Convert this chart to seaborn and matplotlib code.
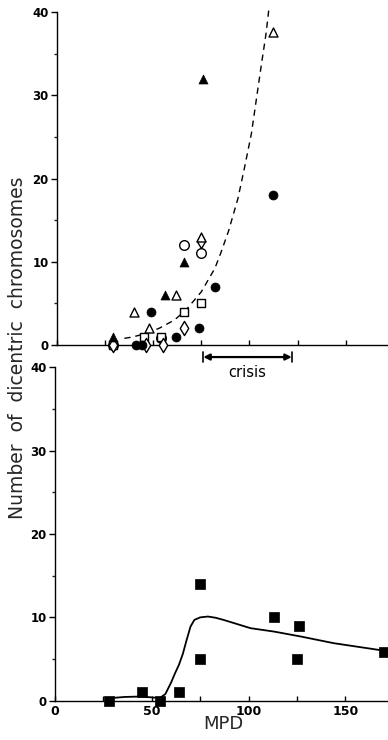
import numpy as np
import pandas as pd
import seaborn as sns
import matplotlib.pyplot as plt

# Top panel: dicentrics vs MPD, one list pair per symbol
filled_circle_x = [41, 44, 49, 62, 74, 82, 112]
filled_circle_y = [0, 0, 4, 1, 2, 7, 18]
open_circle_x = [29, 54, 66, 75]
open_circle_y = [0, 0.8, 12, 11]
filled_tri_x = [29, 56, 66, 76]
filled_tri_y = [1, 6, 10, 32]
open_tri_x = [40, 48, 62, 75, 112]
open_tri_y = [4, 2, 6, 13, 37.6]
open_square_x = [29, 45, 54, 66, 75]
open_square_y = [0, 1, 1, 4, 5]
open_diamond_x = [29, 46, 55, 66, 75]
open_diamond_y = [0, 0, 0, 2, 12.5]

# dashed fit
fit_x = [35, 39, 45, 53, 61, 67, 75, 78, 82, 85, 89, 94, 97.5, 101, 103.5, 106, 108.6, 110]
fit_y = [0.8, 0.95, 1.3, 2.0, 3.0, 4.2, 6.4, 7.6, 9.2, 11.0, 13.6, 17.6, 21.4, 25.4, 29.4, 33.4, 37.4, 40.2]

crisis_range = [76, 122]

# Bottom panel
square_x = [28, 45, 54, 64, 75, 75, 113, 126, 125, 170]
square_y = [0, 1, 0, 1, 14, 5, 10, 9, 5, 5.8]

smooth_x = [28, 36, 44, 50, 54, 57, 60, 62, 64, 66, 68, 70, 72, 75, 79, 83, 87, 94, 101, 113, 127, 144, 170]
smooth_y = [0.3, 0.45, 0.5, 0.4, 0.3, 0.8, 2.2, 3.3, 4.3, 5.6, 7.3, 8.9, 9.7, 10.0, 10.1, 9.95, 9.7, 9.2, 8.7, 8.3, 7.7, 6.9, 6.0]

sns.set_style("ticks")
plt.rcParams['font.family'] = ['DejaVu Sans']

fig = plt.figure(figsize=(3.88, 7.40), dpi=100)
ax_top = fig.add_axes([0.147, 0.5338, 0.853, 0.4496])
ax_bot = fig.add_axes([0.1418, 0.0531, 0.8582, 0.4505])
# let the crisis label below the top panel show over the lower panel
ax_top.set_zorder(2)
ax_top.patch.set_visible(False)
ax_bot.patch.set_visible(False)


def style_axis(ax, show_xlabels):
    ax.set_xlim(0, 172)
    ax.set_ylim(0, 40)
    sns.despine(ax=ax)
    for side in ['left', 'bottom']:
        ax.spines[side].set_linewidth(1.0)
        ax.spines[side].set_color('black')
    ax.set_yticks([0, 10, 20, 30, 40])
    ax.set_yticks([5, 15, 25, 35], minor=True)
    ax.set_xticks([0, 50, 100, 150])
    ax.set_xticks([25, 75, 125], minor=True)
    ax.tick_params(axis='y', which='major', direction='out', length=4, width=1, pad=2,
                   labelsize=8.5, colors='black')
    ax.tick_params(axis='y', which='minor', direction='out', length=2.5, width=1)
    ax.tick_params(axis='x', which='both', direction='in', length=3.5, width=1, pad=3,
                   labelsize=9, colors='black')
    for lab in ax.get_yticklabels() + ax.get_xticklabels():
        lab.set_fontweight('bold')
    if not show_xlabels:
        ax.set_xticklabels([])
    ax.set_xlabel('')
    ax.set_ylabel('')


# top panel
sns.lineplot(x=fit_x, y=fit_y, ax=ax_top, color='black', lw=1.0, sort=False,
             estimator=None, linestyle=(0, (4.5, 3.5)), clip_on=False)
open_kw = dict(color='white', edgecolor='black', linewidth=1.0, ax=ax_top, zorder=3, clip_on=False)
filled_kw = dict(color='black', edgecolor='black', linewidth=0.5, ax=ax_top, zorder=3, clip_on=False)
sns.scatterplot(x=open_circle_x, y=open_circle_y, marker='o', s=48, **open_kw)
sns.scatterplot(x=open_square_x, y=open_square_y, marker='s', s=40, **open_kw)
sns.scatterplot(x=open_diamond_x, y=open_diamond_y, marker='d', s=52, **open_kw)
sns.scatterplot(x=open_tri_x, y=open_tri_y, marker='^', s=42, **open_kw)
sns.scatterplot(x=filled_circle_x, y=filled_circle_y, marker='o', s=42, **filled_kw)
sns.scatterplot(x=filled_tri_x, y=filled_tri_y, marker='^', s=42, **filled_kw)
style_axis(ax_top, show_xlabels=False)

# crisis bracket below the top axis
bar_y = -1.45
ax_top.annotate('', xy=(crisis_range[0], bar_y), xytext=(crisis_range[1], bar_y),
                xycoords='data', annotation_clip=False,
                arrowprops=dict(arrowstyle='<|-|>', color='black', lw=1.6,
                                mutation_scale=9, shrinkA=0, shrinkB=0))
for cx in crisis_range:
    ax_top.plot([cx, cx], [-0.8, -2.1], color='black', lw=1.2, clip_on=False)
ax_top.text(np.mean(crisis_range), -3.3, 'crisis', ha='center', va='center',
            fontsize=10.5, color='black')

# bottom panel
sns.lineplot(x=smooth_x, y=smooth_y, ax=ax_bot, color='black', lw=1.3, sort=False,
             estimator=None)
sns.scatterplot(x=square_x, y=square_y, marker='s', s=48, color='black', edgecolor='black',
                linewidth=0.5, ax=ax_bot, zorder=3, clip_on=False)
style_axis(ax_bot, show_xlabels=True)

fig.text(0.575, 0.022, 'MPD', ha='center', va='center', fontsize=13)
fig.text(0.045, 0.53, 'Number  of  dicentric  chromosomes', rotation=90,
         ha='center', va='center', fontsize=13.5)

fig.savefig('out.png', dpi=100)
